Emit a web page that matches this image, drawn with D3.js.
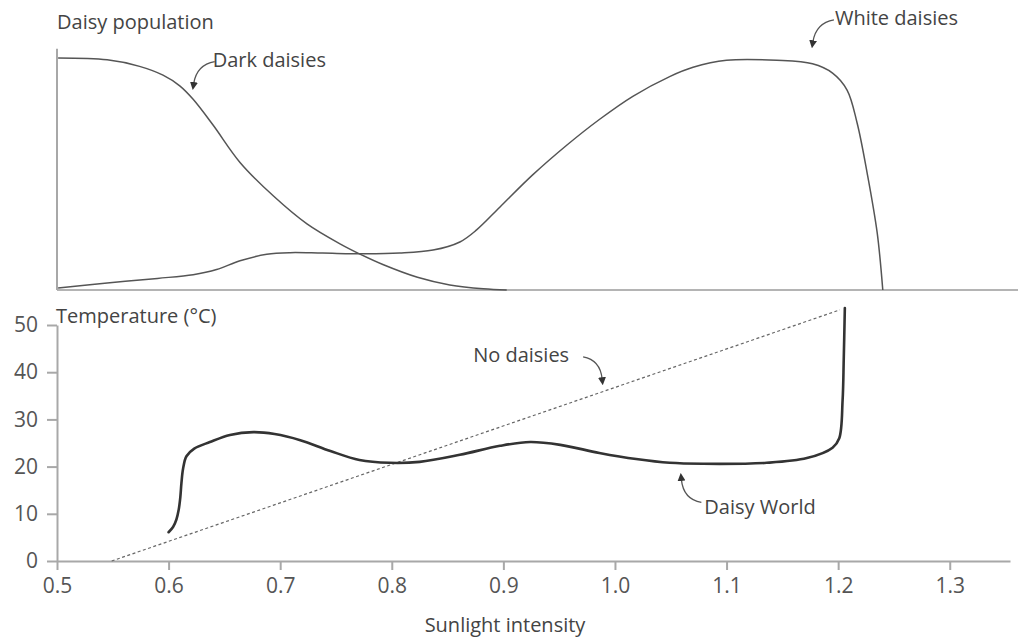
<!DOCTYPE html>
<html>
<head>
<meta charset="utf-8">
<script src="https://cdn.jsdelivr.net/npm/d3@7"></script>
<style>
  html, body { margin: 0; padding: 0; background: #fff; }
  svg { display: block; font-family: "Open Sans", "DejaVu Sans", sans-serif; }
  .lbl { fill: #444; font-size: 20px; }
  .axis text { fill: #555; font-size: 21px; font-family: "Open Sans", sans-serif; }
  .axis path, .axis line { stroke: #a8a8a8; stroke-width: 2; }
</style>
</head>
<body>
<svg id="chart" width="1018" height="639"></svg>
<script>
// Sunlight intensity values and daisy populations (relative, 0-100)
const darkSun = [0.501, 0.545, 0.574, 0.595, 0.610, 0.622, 0.640, 0.664, 0.694, 0.724, 0.754, 0.771, 0.792, 0.823, 0.852, 0.882, 0.903];
const darkPop = [100, 99.2, 96.4, 92.6, 88.0, 82.2, 71.0, 55.0, 40.5, 28.5, 19.8, 15.6, 11.0, 5.5, 2.2, 0.5, 0];

const whiteSun = [0.501, 0.545, 0.590, 0.622, 0.643, 0.664, 0.688, 0.709, 0.738, 0.776, 0.807, 0.837, 0.861, 0.876, 0.897, 0.926, 0.957, 0.986, 1.016, 1.049, 1.070, 1.100, 1.145, 1.177, 1.195, 1.208, 1.217, 1.226, 1.235, 1.240];
const whitePop = [0.9, 3.0, 5.0, 6.6, 8.8, 12.6, 15.4, 16.1, 15.9, 15.6, 15.9, 17.2, 20.7, 25.9, 35.8, 49.5, 62.5, 73.5, 83.5, 92.0, 96.0, 99.0, 99.0, 97.5, 93.5, 86.2, 72.0, 50.4, 24.6, 0];

// Daisy World temperature (°C)
const worldSun = [0.600, 0.604, 0.607, 0.609, 0.6105, 0.6115, 0.613, 0.616, 0.623, 0.637, 0.655, 0.676, 0.695, 0.718, 0.745, 0.771, 0.798, 0.825, 0.861, 0.897, 0.924, 0.951, 0.986, 1.019, 1.049, 1.079, 1.136, 1.172, 1.195, 1.201, 1.204, 1.205, 1.206];
const worldTemp = [6.1, 7.2, 8.8, 10.8, 13.5, 16.5, 19.6, 22.2, 23.8, 25.2, 26.7, 27.3, 26.9, 25.6, 23.3, 21.4, 20.8, 21.0, 22.5, 24.4, 25.2, 24.6, 22.9, 21.6, 20.8, 20.6, 20.8, 21.8, 24.0, 26.0, 34.1, 42.6, 53.6];

// No daisies: straight line
const bareSun = [0.549, 1.2015];
const bareTemp = [0, 53.2];

const xTicks = [0.5, 0.6, 0.7, 0.8, 0.9, 1.0, 1.1, 1.2, 1.3];
const tempTicks = [0, 10, 20, 30, 40, 50];

const svg = d3.select('#chart');

const x = d3.scaleLinear().domain([0.5, 1.354]).range([57, 1010]);
const yTemp = d3.scaleLinear().domain([0, 50]).range([561, 325]);
const yPop = d3.scaleLinear().domain([0, 100]).range([290, 58]);

// arrowhead marker
svg.append('defs').append('marker')
    .attr('id', 'arrow')
    .attr('viewBox', '0 0 10 10')
    .attr('refX', 2).attr('refY', 5)
    .attr('markerWidth', 8).attr('markerHeight', 8)
    .attr('markerUnits', 'userSpaceOnUse')
    .attr('orient', 'auto')
    .append('path')
    .attr('d', 'M0,0 L10,5 L0,10 z')
    .attr('fill', '#333');

// Top panel axes
svg.append('line')
    .attr('x1', x(0.5)).attr('x2', 1018)
    .attr('y1', yPop(0)).attr('y2', yPop(0))
    .attr('stroke', '#b4b4b4').attr('stroke-width', 2);
svg.append('line')
    .attr('x1', x(0.5)).attr('x2', x(0.5))
    .attr('y1', yPop(104)).attr('y2', yPop(0))
    .attr('stroke', '#a8a8a8').attr('stroke-width', 2);

// Bottom panel axes
svg.append('g')
    .attr('class', 'axis')
    .attr('transform', `translate(0,${yTemp(0)})`)
    .call(d3.axisBottom(x).tickValues(xTicks).tickFormat(d3.format('.1f'))
        .tickSize(9).tickSizeOuter(0).tickPadding(8));
svg.append('g')
    .attr('class', 'axis')
    .attr('transform', `translate(${x(0.5)},0)`)
    .call(d3.axisLeft(yTemp).tickValues(tempTicks).tickSize(10).tickSizeOuter(0).tickPadding(9));
svg.selectAll('.axis .domain').attr('stroke', '#a8a8a8');

// Curves
const popLine = d3.line()
    .x(d => x(d[0])).y(d => yPop(d[1]))
    .curve(d3.curveCatmullRom.alpha(0.5));
const tempLine = d3.line()
    .x(d => x(d[0])).y(d => yTemp(d[1]))
    .curve(d3.curveCatmullRom.alpha(0.5));

svg.append('path')
    .datum(darkSun.map((s, i) => [s, darkPop[i]]))
    .attr('d', popLine)
    .attr('fill', 'none').attr('stroke', '#555').attr('stroke-width', 1.5);
svg.append('path')
    .datum(whiteSun.map((s, i) => [s, whitePop[i]]))
    .attr('d', popLine)
    .attr('fill', 'none').attr('stroke', '#555').attr('stroke-width', 1.5);

svg.append('path')
    .datum(bareSun.map((s, i) => [s, bareTemp[i]]))
    .attr('d', tempLine)
    .attr('fill', 'none').attr('stroke', '#666').attr('stroke-width', 1.2)
    .attr('stroke-dasharray', '3,2.5');
svg.append('path')
    .datum(worldSun.map((s, i) => [s, worldTemp[i]]))
    .attr('d', tempLine)
    .attr('fill', 'none').attr('stroke', '#333').attr('stroke-width', 2.6)
    .attr('stroke-linecap', 'round');

// Titles
svg.append('text').attr('class', 'lbl').attr('x', 57).attr('y', 29).text('Daisy population');
svg.append('text').attr('class', 'lbl').attr('x', 56).attr('y', 323).text('Temperature (°C)');
svg.append('text').attr('class', 'lbl').attr('x', 505).attr('y', 632)
    .attr('text-anchor', 'middle').text('Sunlight intensity');

// Annotations: arrow tip in data units, label offset in pixels
const annotations = [
    { text: 'Dark daisies', panel: 'pop', sx: 0.6225, sy: 85.5, lx: 23, ly: -26 },
    { text: 'White daisies', panel: 'pop', sx: 1.1774, sy: 103.5, lx: 26, ly: -24 },
    { text: 'No daisies', panel: 'temp', sx: 0.9885, sy: 36.9, lx: -129, ly: -28 },
    { text: 'Daisy World', panel: 'temp', sx: 1.0595, sy: 19.0, lx: 27, ly: 42 }
];

annotations.forEach(a => {
    const yS = a.panel === 'pop' ? yPop : yTemp;
    const tx = x(a.sx), ty = yS(a.sy);
    const up = a.ly > 0;
    const nd = a.text === 'No daisies';
    // start of arrow path next to label
    let x0, y0;
    if (nd) { x0 = tx - 19; y0 = ty - 30; }
    else if (up) { x0 = tx + 20; y0 = ty + 31; }
    else { x0 = tx + 21; y0 = ty - 30; }
    const cx = up ? tx + 2 : (nd ? tx - 2 : tx + 3);
    const cy = y0 + (up ? -3 : 3);
    const endY = up ? ty + 8 : ty - 8;
    const path = d3.path();
    path.moveTo(x0, y0);
    path.quadraticCurveTo(cx, cy, tx, endY);
    svg.append('path')
        .attr('d', path.toString())
        .attr('fill', 'none').attr('stroke', '#555').attr('stroke-width', 1.3)
        .attr('marker-end', 'url(#arrow)');
    svg.append('text').attr('class', 'lbl')
        .attr('x', nd ? tx + a.lx : tx + a.lx - 4)
        .attr('y', up ? ty + 43 : ty - 25)
        .text(a.text);
});
</script>
</body>
</html>
